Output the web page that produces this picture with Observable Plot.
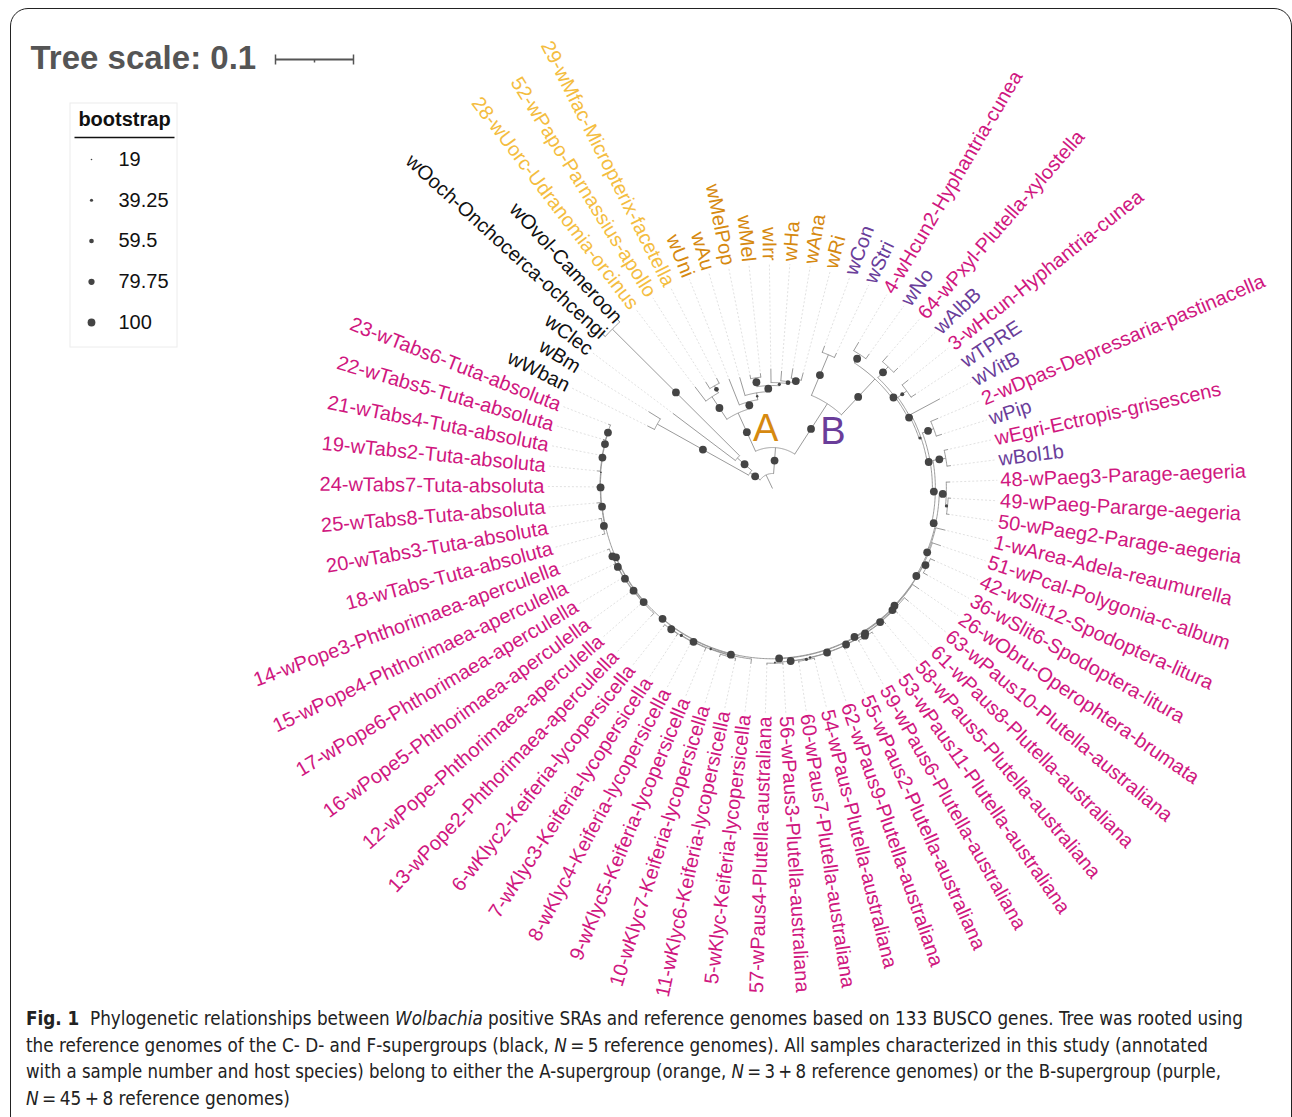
<!DOCTYPE html>
<html><head><meta charset="utf-8">
<script src="https://cdn.jsdelivr.net/npm/d3@7"></script>
<script src="https://cdn.jsdelivr.net/npm/@observablehq/plot@0.6"></script>
<style>
html,body{margin:0;padding:0;background:#fff;width:1292px;height:1117px;overflow:hidden;}
#frame{position:absolute;left:10px;top:8px;width:1282px;height:1170px;border:1.5px solid #222;border-radius:18px;box-sizing:border-box;}
#chart{position:absolute;left:0;top:0;}
#caption{position:absolute;left:26px;top:1005px;font-family:"Liberation Sans Narrow","DejaVu Sans Condensed","Liberation Sans",sans-serif;font-size:19px;line-height:26.5px;color:#222;}
#caption div{white-space:nowrap;transform-origin:0 50%;width:max-content;}
</style></head>
<body>
<div id="frame"></div>
<div id="chart"></div>
<div id="caption"></div>
<script>
// ---------------- data ----------------
// Newick subtrees (branch lengths in substitutions/site, internal labels = bootstrap)
const outgroupTree = "((wWban:0.0103,wBm:0.0179)100:0.1340,(wClec:0.1006,(wOoch-Onchocerca-ochcengi:0.0064,wOvol-Cameroon:0.0064)100:0.2301)100:0.0244)100:0.0160";
const aSampleTree = "(28-wUorc-Udranomia-orcinus:0.0231,(52-wPapo-Parnassius-apollo:0.0103,29-wMfac-Micropterix-facetella:0.0077)60:0.0103)100:0.0346";
const aRefTree = "(wUni:0.0359,(wAu:0.0244,((wMelPop:0.0051,wMel:0.0051)100:0.0115,(wIrr:0.0179,(wHa:0.0128,(wAna:0.0128,wRi:0.0103)100:0.0051)60:0.0026)40:0.0038)100:0.0077)30:0.0090)100:0.0090";
const pausTree = "(63-wPaus10-Plutella-australiana:0.0071,(61-wPaus8-Plutella-australiana:0.0064,(58-wPaus5-Plutella-australiana:0.0058,((53-wPaus11-Plutella-australiana:0.0026,59-wPaus6-Plutella-australiana:0.0026)100:0.0026,(55-wPaus2-Plutella-australiana:0.0047,(62-wPaus9-Plutella-australiana:0.0044,((54-wPaus-Plutella-australiana:0.0026,60-wPaus7-Plutella-australiana:0.0026)40:0.0014,(56-wPaus3-Plutella-australiana:0.0026,57-wPaus4-Plutella-australiana:0.0026)20:0.0014)100:0.0004)30:0.0004)100:0.0004)100:0.0006)100:0.0006)100:0.0006)100:0.0013";
const klycTree = "(5-wKlyc-Keiferia-lycopersicella:0.0064,((11-wKlyc6-Keiferia-lycopersicella:0.0038,10-wKlyc7-Keiferia-lycopersicella:0.0038)20:0.0019,(9-wKlyc5-Keiferia-lycopersicella:0.0051,(8-wKlyc4-Keiferia-lycopersicella:0.0045,(7-wKlyc3-Keiferia-lycopersicella:0.0038,6-wKlyc2-Keiferia-lycopersicella:0.0038)100:0.0006)40:0.0006)100:0.0006)30:0.0006)100:0.0013";
const popeTree = "(13-wPope2-Phthorimaea-aperculella:0.0058,(12-wPope-Phthorimaea-aperculella:0.0051,(16-wPope5-Phthorimaea-aperculella:0.0045,(17-wPope6-Phthorimaea-aperculella:0.0038,(15-wPope4-Phthorimaea-aperculella:0.0032,14-wPope3-Phthorimaea-aperculella:0.0032)100:0.0006)100:0.0006)100:0.0006)100:0.0006)100:0.0013";
const tabsTree = "((18-wTabs-Tuta-absoluta:0.0038,20-wTabs3-Tuta-absoluta:0.0038)100:0.0026,(25-wTabs8-Tuta-absoluta:0.0058,(24-wTabs7-Tuta-absoluta:0.0051,(19-wTabs2-Tuta-absoluta:0.0045,(21-wTabs4-Tuta-absoluta:0.0038,(22-wTabs5-Tuta-absoluta:0.0032,23-wTabs6-Tuta-absoluta:0.0032)100:0.0006)100:0.0006)100:0.0006)20:0.0006)100:0.0006)100:0.0006";
const bLowerTree = `(1-wArea-Adela-reaumurella:0.0128,(51-wPcal-Polygonia-c-album:0.0115,((42-wSlit12-Spodoptera-litura:0.0064,36-wSlit6-Spodoptera-litura:0.0064)100:0.0045,(26-wObru-Operophtera-brumata:0.0103,(${pausTree},(${klycTree},(${popeTree},${tabsTree})100:0.0006)100:0.0006)100:0.0006)100:0.0006)100:0.0006)100:0.0013)100:0.0013`;
const bTree = `((wCon:0.0090,wStri:0.0064)100:0.0564,((4-wHcun2-Hyphantria-cunea:0.0128,wNo:0.0077)100:0.0128,((64-wPxyl-Plutella-xylostella:0.0103,wAlbB:0.0077)100:0.0192,((3-wHcun-Hyphantria-cunea:0.0103,wTPRE:0.0077)50:0.0141,(wVitB:0.0423,((2-wDpas-Depressaria-pastinacella:0.0103,wPip:0.0077)100:0.0154,((wEgri-Ectropis-grisescens:0.0051,wBol1b:0.0051)100:0.0167,((48-wPaeg3-Parage-aegeria:0.0051,(49-wPaeg-Pararge-aegeria:0.0038,50-wPaeg2-Parage-aegeria:0.0038)40:0.0026)100:0.0090,${bLowerTree})100:0.0051)100:0.0038)100:0.0038)40:0.0026)100:0.0026)100:0.0038)100:0.0628)100:0.0769`;
const newick = `(${outgroupTree},((${aSampleTree},${aRefTree})100:0.0538,${bTree})100:0.0333):0.0192;`;

const outgroupLeaves = ["wWban", "wBm", "wClec", "wOoch-Onchocerca-ochcengi", "wOvol-Cameroon"];
const aSampleLeaves = ["28-wUorc-Udranomia-orcinus", "52-wPapo-Parnassius-apollo", "29-wMfac-Micropterix-facetella"];
const aRefLeaves = ["wUni", "wAu", "wMelPop", "wMel", "wIrr", "wHa", "wAna", "wRi"];
const bRefLeaves = ["wCon", "wStri", "wNo", "wAlbB", "wTPRE", "wVitB", "wPip", "wBol1b"];
const groupColors = {outgroup: "#111111", aSample: "#f4bd3f", aRef: "#d68910", bRef: "#6a3d9a", bSample: "#d0177f"};
const cladeLabels = ["A", "B"];
const legendValues = [19, 39.25, 59.5, 79.75, 100];
const legendTitle = "bootstrap";
const treeScaleValue = 0.1;
const captionLines = [
  '<b>Fig. 1</b>&nbsp; Phylogenetic relationships between <i>Wolbachia</i> positive SRAs and reference genomes based on 133 BUSCO genes. Tree was rooted using',
  'the reference genomes of the C- D- and F-supergroups (black, <i>N</i>\u2009=\u20095 reference genomes). All samples characterized in this study (annotated',
  'with a sample number and host species) belong to either the A-supergroup (orange, <i>N</i>\u2009=\u20093\u2009+\u20098 reference genomes) or the B-supergroup (purple,',
  '<i>N</i>\u2009=\u200945\u2009+\u20098 reference genomes)'
];
const captionWidths = [1217, 1182, 1195, 264];

// ---------------- layout ----------------
const W = 1292, H = 1000;
const center = {x: 772, y: 488};
const pxPerUnit = 780;
const startAngle = 206.6;
const labelRadius = 228;
const FONT = "Liberation Sans, Arimo, Arial, sans-serif";

function parseNewick(s) {
  let i = 0;
  function node() {
    const n = {children: []};
    if (s[i] === "(") {
      i++;
      n.children.push(node());
      while (s[i] === ",") { i++; n.children.push(node()); }
      i++;
    }
    let name = "";
    while (i < s.length && !",():;".includes(s[i])) name += s[i++];
    n.name = name;
    n.length = 0;
    if (s[i] === ":") {
      i++;
      let num = "";
      while (i < s.length && !",();".includes(s[i])) num += s[i++];
      n.length = +num;
    }
    return n;
  }
  return node();
}

const root = parseNewick(newick.replace(/\s+/g, ""));
const allNodes = [];
const leaves = [];
(function walk(n, parentR) {
  n.parentR = parentR;
  n.r = parentR + n.length * pxPerUnit;
  n.id = allNodes.length;
  allNodes.push(n);
  if (!n.children.length) leaves.push(n);
  n.children.forEach(c => walk(c, n.r));
})(root, 0);
const step = 360 / leaves.length;
leaves.forEach((l, i) => { l.angle = startAngle + i * step; });
(function setAngle(n) {
  if (n.children.length) {
    n.children.forEach(setAngle);
    n.angle = (n.children[0].angle + n.children[n.children.length - 1].angle) / 2;
  }
})(root);

const rad = a => a * Math.PI / 180;
const px = (r, a) => center.x + r * Math.cos(rad(a));
const py = (r, a) => center.y + r * Math.sin(rad(a));

function groupOf(name) {
  if (outgroupLeaves.includes(name)) return "outgroup";
  if (aSampleLeaves.includes(name)) return "aSample";
  if (aRefLeaves.includes(name)) return "aRef";
  if (bRefLeaves.includes(name)) return "bRef";
  return "bSample";
}

const branches = allNodes.map(n => ({
  x1: px(n.parentR, n.angle), y1: py(n.parentR, n.angle),
  x2: px(n.r, n.angle), y2: py(n.r, n.angle)
}));
const arcPoints = [];
allNodes.filter(n => n.children.length).forEach(n => {
  const a0 = n.children[0].angle, a1 = n.children[n.children.length - 1].angle;
  const k = Math.max(2, Math.ceil((a1 - a0) / 0.5));
  for (let j = 0; j <= k; j++) {
    const a = a0 + (a1 - a0) * j / k;
    arcPoints.push({id: n.id, x: px(n.r, a), y: py(n.r, a)});
  }
});
const dots = allNodes.filter(n => n.children.length && n.name !== "").map(n => {
  const rm = (n.parentR + n.r) / 2;
  return {x: px(rm, n.angle), y: py(rm, n.angle), bootstrap: +n.name};
});
const extensions = leaves.map(l => ({
  x1: px(l.r + 2, l.angle), y1: py(l.r + 2, l.angle),
  x2: px(labelRadius - 3, l.angle), y2: py(labelRadius - 3, l.angle)
}));
const labels = leaves.map(l => {
  const a = ((l.angle % 360) + 360) % 360;
  const left = a > 90 && a < 270;
  return {
    name: l.name, left,
    x: px(labelRadius, l.angle), y: py(labelRadius, l.angle),
    rot: left ? a - 180 : a,
    color: groupColors[groupOf(l.name)]
  };
});

// clade labels placed next to the A and B supergroup nodes
const abNode = root.children[1];
const cladeNodes = abNode.children;
const cladeOffsets = [{dr: 0.72, da: 18}, {dr: 0.82, da: 14}];
const cladeText = cladeLabels.map((name, i) => {
  const n = cladeNodes[i];
  const r = n.r * cladeOffsets[i].dr, a = n.angle + cladeOffsets[i].da;
  return {name, x: px(r, a), y: py(r, a), color: i === 0 ? groupColors.aRef : groupColors.bRef};
});

// tree scale bar
const barX0 = 275, barY = 59, barLen = treeScaleValue * pxPerUnit;
const scaleBar = [{x1: barX0, x2: barX0 + barLen, y1: barY, y2: barY}];
const scaleTicks = [
  {x1: barX0, x2: barX0, y1: barY - 5, y2: barY + 5},
  {x1: barX0 + barLen, x2: barX0 + barLen, y1: barY - 5, y2: barY + 5},
  {x1: barX0 + barLen / 2, x2: barX0 + barLen / 2, y1: barY, y2: barY + 3}
];

// legend
const legendItems = legendValues.map((v, i) => ({v, label: String(v), x: 91, y: 159 + i * 40.75}));

const lineColor = "#8f8f8f";
const plot = Plot.plot({
  width: W, height: H, margin: 0,
  x: {domain: [0, W], range: [0, W], axis: null},
  y: {domain: [0, H], range: [0, H], axis: null},
  r: {type: "linear", domain: [19, 100], range: [0.8, 3.9]},
  color: {type: "identity"},
  style: {fontFamily: FONT, background: "transparent", overflow: "visible"},
  marks: [
    Plot.link(extensions, {x1: "x1", y1: "y1", x2: "x2", y2: "y2", stroke: "#d9d9d9", strokeWidth: 0.8, strokeDasharray: "2,2"}),
    Plot.line(arcPoints, {x: "x", y: "y", z: "id", stroke: lineColor, strokeWidth: 0.9, curve: "linear"}),
    Plot.link(branches, {x1: "x1", y1: "y1", x2: "x2", y2: "y2", stroke: lineColor, strokeWidth: 0.9}),
    Plot.dot(dots, {x: "x", y: "y", r: "bootstrap", fill: "#444", stroke: "none"}),
    Plot.text(labels.filter(d => !d.left), {x: "x", y: "y", text: "name", rotate: "rot", fill: "color", textAnchor: "start", fontSize: 20, fontFamily: FONT}),
    Plot.text(labels.filter(d => d.left), {x: "x", y: "y", text: "name", rotate: "rot", fill: "color", textAnchor: "end", fontSize: 20, fontFamily: FONT}),
    Plot.text(cladeText, {x: "x", y: "y", text: "name", fill: "color", fontSize: 38, fontFamily: FONT}),
    // tree scale
    Plot.text([`Tree scale: ${treeScaleValue}`], {x: 30, y: 58, text: d => d, textAnchor: "start", fontSize: 33, fontWeight: "bold", fill: "#555", fontFamily: FONT}),
    Plot.link(scaleBar, {x1: "x1", y1: "y1", x2: "x2", y2: "y2", stroke: "#555", strokeWidth: 2}),
    Plot.link(scaleTicks, {x1: "x1", y1: "y1", x2: "x2", y2: "y2", stroke: "#555", strokeWidth: 1.5}),
    // legend
    Plot.rect([{x1: 70, x2: 177, y1: 103, y2: 347}], {x1: "x1", x2: "x2", y1: "y1", y2: "y2", fill: "none", stroke: "#ececec"}),
    Plot.text([legendTitle], {x: 124, y: 119, text: d => d, fontSize: 20, fontWeight: "bold", fill: "#111", fontFamily: FONT}),
    Plot.link([{x1: 74, x2: 174, y1: 137, y2: 137}], {x1: "x1", y1: "y1", x2: "x2", y2: "y2", stroke: "#111", strokeWidth: 1.5}),
    Plot.dot(legendItems, {x: "x", y: "y", r: "v", fill: "#444", stroke: "none"}),
    Plot.text(legendItems, {x: 118, y: "y", text: "label", textAnchor: "start", fontSize: 20, fill: "#111", fontFamily: FONT})
  ]
});
document.getElementById("chart").appendChild(plot);

// caption
const cap = document.getElementById("caption");
captionLines.forEach((html, i) => {
  const div = document.createElement("div");
  div.innerHTML = html;
  cap.appendChild(div);
  const w = div.getBoundingClientRect().width;
  if (w > 0) div.style.transform = `scaleX(${captionWidths[i] / w})`;
});
</script>
</body></html>
